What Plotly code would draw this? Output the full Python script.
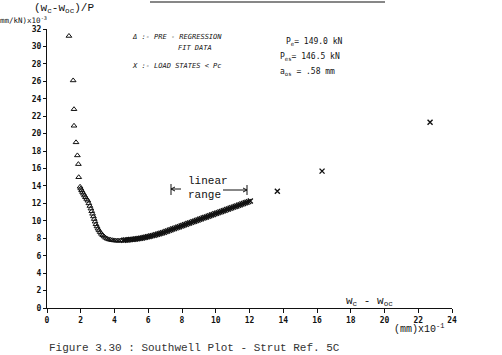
import plotly.graph_objects as go

# Pre-regression fit data (triangles)
tri_x = [1.30, 1.55, 1.60, 1.60, 1.72, 1.80, 1.86, 1.88,
         1.96, 2.00, 2.05, 2.10, 2.16, 2.22, 2.28, 2.35, 2.42, 2.48, 2.54, 2.60,
         2.65, 2.70, 2.75, 2.80, 2.85, 2.90, 2.96, 3.02, 3.08, 3.15, 3.22, 3.30,
         3.38, 3.47, 3.56, 3.66, 3.76, 3.86, 3.96, 4.06, 4.16, 4.26, 4.36, 4.46]
tri_y = [31.2, 26.1, 22.8, 20.9, 19.0, 17.5, 16.5, 15.0,
         13.9, 13.7, 13.5, 13.3, 13.1, 12.9, 12.7, 12.5, 12.3, 12.0, 11.7, 11.4,
         11.1, 10.8, 10.5, 10.2, 9.9, 9.6, 9.35, 9.1, 8.9, 8.7, 8.5, 8.35,
         8.2, 8.05, 7.95, 7.87, 7.82, 7.78, 7.75, 7.73, 7.72, 7.72, 7.73, 7.75]

# Load states < Pc (crosses)
crs_x = [4.55, 4.65, 4.75, 4.85, 4.95, 5.05, 5.15, 5.25, 5.35, 5.45, 5.55, 5.65,
         5.75, 5.85, 5.95, 6.05, 6.15, 6.25, 6.35, 6.45, 6.55, 6.65, 6.75, 6.85,
         6.95, 7.05, 7.15, 7.25, 7.35, 7.45, 7.55, 7.65, 7.75, 7.85, 7.95, 8.05,
         8.15, 8.25, 8.35, 8.45, 8.55, 8.65, 8.75, 8.85, 8.95, 9.05, 9.15, 9.25,
         9.35, 9.45, 9.55, 9.65, 9.75, 9.85, 9.95, 10.05, 10.15, 10.25, 10.35, 10.45,
         10.55, 10.65, 10.75, 10.85, 10.95, 11.05, 11.15, 11.25, 11.35, 11.45, 11.55,
         11.65, 11.75, 11.85, 11.95, 12.05,
         13.65, 16.30, 22.70]
crs_y = [7.77, 7.79, 7.81, 7.83, 7.85, 7.87, 7.89, 7.92, 7.95, 7.98, 8.01, 8.04,
         8.08, 8.12, 8.16, 8.20, 8.25, 8.30, 8.35, 8.40, 8.46, 8.52, 8.58, 8.64,
         8.70, 8.77, 8.84, 8.91, 8.98, 9.05, 9.12, 9.19, 9.26, 9.33, 9.40, 9.47,
         9.54, 9.61, 9.68, 9.75, 9.82, 9.89, 9.96, 10.03, 10.10, 10.17, 10.24, 10.31,
         10.38, 10.45, 10.52, 10.59, 10.66, 10.73, 10.80, 10.87, 10.94, 11.01, 11.08, 11.15,
         11.22, 11.29, 11.36, 11.43, 11.50, 11.57, 11.64, 11.71, 11.78, 11.85, 11.92,
         11.99, 12.06, 12.13, 12.20, 12.27,
         13.40, 15.70, 21.30]

x_ticks = [0, 2, 4, 6, 8, 10, 12, 14, 16, 18, 20, 22, 24]
y_ticks = [0, 2, 4, 6, 8, 10, 12, 14, 16, 18, 20, 22, 24, 26, 28, 30, 32]

tick_font = dict(family="DejaVu Sans Mono", size=8, color="#111", weight="bold")

fig = go.Figure()
fig.add_trace(go.Scatter(x=tri_x, y=tri_y, mode="markers",
                         marker=dict(symbol="triangle-up-open", size=5, color="#111",
                                     line=dict(width=1, color="#111")),
                         showlegend=False))
fig.add_trace(go.Scatter(x=crs_x, y=crs_y, mode="markers",
                         marker=dict(symbol="x-thin-open", size=5, color="#111",
                                     line=dict(width=1.4, color="#111")),
                         showlegend=False))

fig.update_layout(
    width=502, height=355,
    margin=dict(l=47, r=50, t=29, b=47),
    paper_bgcolor="white", plot_bgcolor="white",
    xaxis=dict(range=[0, 24], tickvals=x_ticks, ticktext=[str(v) for v in x_ticks],
               showgrid=False, zeroline=False, showline=True, linecolor="#111",
               linewidth=1.2, ticks="outside", ticklen=4, tickcolor="#111",
               tickfont=tick_font),
    yaxis=dict(range=[0, 32], tickvals=y_ticks, ticktext=[str(v) for v in y_ticks],
               showgrid=False, zeroline=False, showline=True, linecolor="#111",
               linewidth=1.2, ticks="outside", ticklen=3, tickcolor="#111",
               tickfont=tick_font),
)

mono = "Liberation Mono"
small = dict(family="DejaVu Sans Mono", size=7, color="#111")
ann = [
    dict(x=32, y=8, text="(w<sub>c</sub>-w<sub>oc</sub>)/P",
         font=dict(family=mono, size=11, color="#111")),
    dict(x=-2, y=20, text="mm/kN)x10<sup>-3</sup>",
         font=dict(family="DejaVu Sans Mono", size=7.5, color="#111")),
    dict(x=130, y=37, text="<i>Δ :- PRE - REGRESSION</i>", font=small),
    dict(x=176, y=48, text="<i>FIT DATA</i>", font=small),
    dict(x=130, y=66, text="<i>X :- LOAD STATES &lt; Pc</i>", font=small),
    dict(x=284, y=42, text="P<sub>e</sub>= 149.0 kN",
         font=dict(family="DejaVu Sans Mono", size=8, color="#111")),
    dict(x=278, y=57, text="P<sub>es</sub>= 146.5 kN",
         font=dict(family="DejaVu Sans Mono", size=8, color="#111")),
    dict(x=278, y=72, text="a<sub>os</sub> = .58 mm",
         font=dict(family="DejaVu Sans Mono", size=8, color="#111")),
    dict(x=186, y=181, text="linear", font=dict(family=mono, size=11, color="#111")),
    dict(x=186, y=195, text="range", font=dict(family=mono, size=11, color="#111")),
    dict(x=344, y=301, text="w<sub>c</sub> - w<sub>oc</sub>",
         font=dict(family=mono, size=11, color="#111")),
    dict(x=392, y=328, text="(mm)x10<sup>-1</sup>",
         font=dict(family=mono, size=10, color="#111")),
    dict(x=47, y=348, text="Figure 3.30 : Southwell Plot - Strut Ref. 5C",
         font=dict(family=mono, size=11, color="#333")),
]
W, H = 502, 355
pl, pr, pt, pb = 47, 50, 29, 47
pw, ph = W - pl - pr, H - pt - pb

def px(xp, yp):
    return (xp - pl) / pw, (H - pb - yp) / ph

for a in ann:
    ax, ay = px(a["x"], a["y"])
    fig.add_annotation(x=ax, y=ay, xref="paper", yref="paper", text=a["text"],
                       showarrow=False, font=a["font"], xanchor="left", yanchor="middle")

shapes = []
def line(x0, y0, x1, y1, w=1):
    a0, b0 = px(x0, y0)
    a1, b1 = px(x1, y1)
    shapes.append(dict(type="line", xref="paper", yref="paper", x0=a0, y0=b0, x1=a1, y1=b1,
                       line=dict(color="#111", width=w)))

line(150, 2, 385, 2, 1.2)
# linear range bracket
line(171, 184, 171, 195)
line(171, 189, 181, 189)
line(171, 189, 175, 187)
line(171, 189, 175, 191)
line(223, 190, 247, 190)
line(247, 185, 247, 195)
line(247, 190, 243, 188)
line(247, 190, 243, 192)
fig.update_layout(shapes=shapes)

fig.write_html("out.html")
